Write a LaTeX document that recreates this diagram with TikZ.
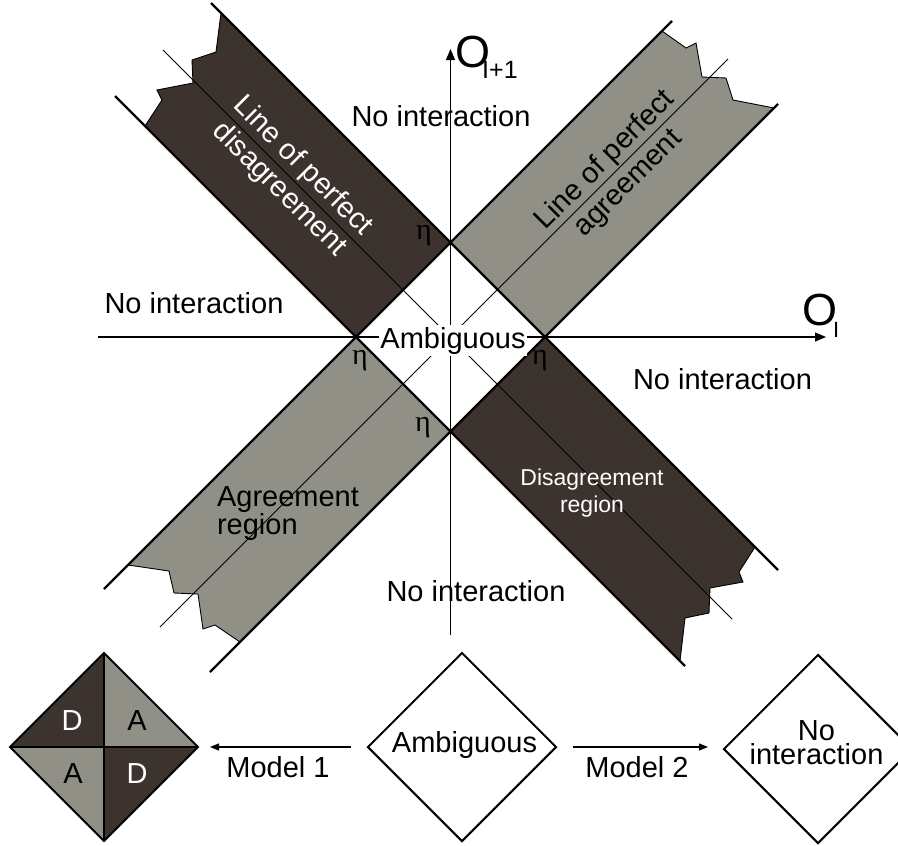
\documentclass[tikz,border=0pt]{standalone}
\usepackage{fontspec}
\setmainfont{Liberation Sans}
\newfontfamily\etafont{Liberation Serif}
\usetikzlibrary{arrows.meta,shapes.geometric}
\definecolor{darkband}{RGB}{60,50,46}
\definecolor{grayband}{RGB}{144,144,135}
\begin{document}
\begin{tikzpicture}[x=1pt,y=-1pt,
  thickln/.style={line width=2.2pt},
  thinln/.style={line width=0.8pt},
  axisln/.style={line width=1.1pt,-{Triangle[length=11pt,width=9pt]}},
  modelarrow/.style={line width=1.1pt,-{Triangle[length=9pt,width=7pt]}},
  jag/.style={draw=black,line width=0.9pt,line join=miter},
  lbl/.style={font=\fontsize{29}{33}\selectfont, inner sep=0pt},
  smalllbl/.style={font=\fontsize{23}{27}\selectfont, inner sep=0pt},
  eta/.style={font=\etafont\fontsize{30}{30}\selectfont, inner sep=0pt},
  diam/.style={line width=2pt, line join=miter},
  bigdiam/.style={diamond, draw, line width=2pt, minimum width=189pt, minimum height=189pt, inner sep=0pt, aspect=1},
]
\useasboundingbox (0,0) rectangle (898,846);

% central diamond vertices
\coordinate (T) at (450.5,242.5);
\coordinate (L) at (356,337);
\coordinate (R) at (545,337);
\coordinate (B) at (450.5,431.5);

% band fills with jagged ends
\filldraw[jag, fill=darkband] (T) -- (221,13) -- (216,52) -- (192,60) -- (193,83) -- (157,90) -- (162,100) -- (145,126) -- (L) -- cycle;
\filldraw[jag, fill=grayband] (T) -- (662,31) -- (686,48) -- (696,43) -- (702,77) -- (726,78) -- (733,100) -- (774,108) -- (R) -- cycle;
\filldraw[jag, fill=grayband] (L) -- (128,565) -- (169,571) -- (174,593) -- (198,594) -- (203,629) -- (215,625) -- (240,642) -- (B) -- cycle;
\filldraw[jag, fill=darkband] (R) -- (755,547) -- (739,572) -- (743,582) -- (710,588) -- (709,613) -- (685,618) -- (680,661) -- (B) -- cycle;

% thin diagonals
\coordinate (d1a) at (163,50);  \coordinate (d1b) at (732,619);
\coordinate (d2a) at (160,627); \coordinate (d2b) at (728,59);
\draw[thinln] (d1a) -- (d1b);
\draw[thinln] (d2a) -- (d2b);

% axes
\coordinate (xa) at (98,337);  \coordinate (xb) at (826,337);
\coordinate (ya) at (450.5,635); \coordinate (yb) at (450.5,49);
\draw[axisln] (xa) -- (xb);
\draw[axisln] (ya) -- (yb);

% thick band borders
\coordinate (la) at (115,96);  \coordinate (lb) at (685,666);
\coordinate (ma) at (211,3);   \coordinate (mb) at (778,570);
\coordinate (na) at (104,589); \coordinate (nb) at (672,21);
\coordinate (oa) at (210,672); \coordinate (ob) at (778,104);
\draw[thickln] (la) -- (lb);
\draw[thickln] (ma) -- (mb);
\draw[thickln] (na) -- (nb);
\draw[thickln] (oa) -- (ob);

% center label
\node[lbl, fill=white, inner sep=1.5pt, anchor=base] (amb) at (453,348) {Ambiguous};

% axis labels
\node[anchor=base west, inner sep=0pt] (oy) at (455,67) {\fontsize{45}{45}\selectfont O\kern-8pt\raisebox{-11pt}{\fontsize{25}{25}\selectfont I+1}};
\node[anchor=base west, inner sep=0pt] (ox) at (802,325) {\fontsize{45}{45}\selectfont O\kern-4pt\raisebox{-12pt}{\fontsize{22}{22}\selectfont I}};

% no interaction labels
\node[lbl, anchor=base] (ni1) at (441,126) {No interaction};
\node[lbl, anchor=base] (ni2) at (194,313) {No interaction};
\node[lbl, anchor=base] (ni3) at (722.5,389) {No interaction};
\node[lbl, anchor=base] (ni4) at (476,601) {No interaction};

% eta labels
\node[eta] (e1) at (424,236) {η};
\node[eta] (e2) at (360,361) {η};
\node[eta] (e3) at (540,361) {η};
\node[eta] (e4) at (423,428) {η};

% band labels
\node[lbl, text=white, align=center, rotate=-45] (lpd) at (291,178) {Line of perfect\\disagreement};
\node[lbl, align=center, rotate=45] (lpa) at (617,172) {Line of perfect\\agreement};
\node[lbl, align=left, font=\fontsize{29}{28}\selectfont] (agr) at (288,514) {Agreement\\region};
\node[smalllbl, align=center, text=white] (dis) at (592,493) {Disagreement\\region};

% bottom: quadrant diamond
\fill[darkband] (104,747) -- (10,747) -- (104,653) -- cycle;
\fill[grayband] (104,747) -- (104,653) -- (198,747) -- cycle;
\fill[grayband] (104,747) -- (10,747) -- (104,841) -- cycle;
\fill[darkband] (104,747) -- (198,747) -- (104,841) -- cycle;
\draw[line width=1.3pt] (10,747) -- (198,747);
\draw[line width=1.3pt] (104,653) -- (104,841);
\draw[diam] (104,653) -- (198,747) -- (104,841) -- (10,747) -- cycle;
\node[lbl, anchor=base, text=white] (qd1) at (72,730) {D};
\node[lbl, anchor=base] (qa1) at (137,730) {A};
\node[lbl, anchor=base] (qa2) at (73,783) {A};
\node[lbl, anchor=base, text=white] (qd2) at (137,783) {D};

% bottom: ambiguous and no interaction diamonds
\node[bigdiam, lbl] (ambd) at (462,747) {};
\node[lbl, anchor=base] (ambt) at (464.5,752) {Ambiguous};
\node[bigdiam, lbl] (nid) at (818,749) {};
\node[lbl, align=center, font=\fontsize{29}{24}\selectfont] (nit) at (816.5,743) {No\\interaction};

% model arrows
\coordinate (m1s) at (351,747); \coordinate (m1e) at (210,747);
\coordinate (m2s) at (573,747); \coordinate (m2e) at (708,747);
\draw[modelarrow] (m1s) -- (m1e);
\draw[modelarrow] (m2s) -- (m2e);
\node[lbl, anchor=base] (mod1) at (278,777) {Model 1};
\node[lbl, anchor=base] (mod2) at (637,777) {Model 2};
\end{tikzpicture}
\end{document}
